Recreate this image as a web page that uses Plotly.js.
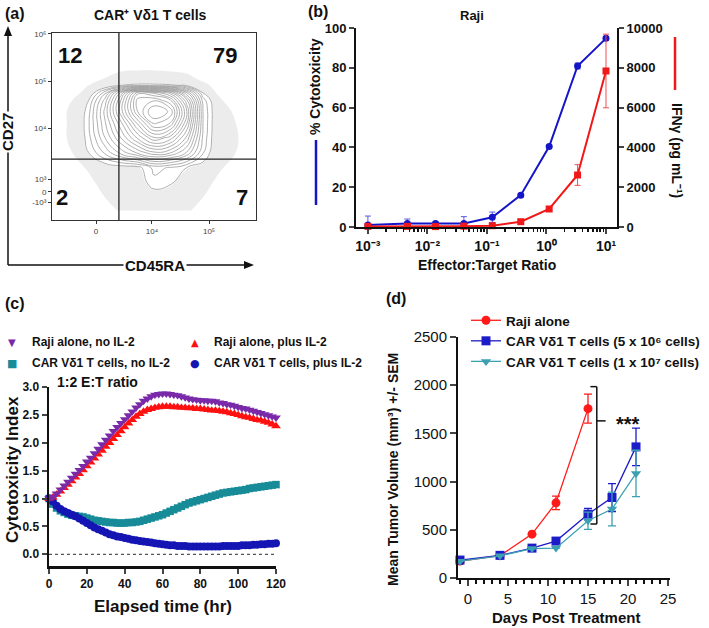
<!DOCTYPE html>
<html>
<head>
<meta charset="utf-8">
<script src="https://cdn.plot.ly/plotly-3.0.1.min.js"></script>
<style>body{margin:0;background:#fff}#chart{width:709px;height:628px}</style>
</head>
<body>
<div id="chart"></div>
<script>
// panel (a) - densities estimated from the contour picture (display units 0-100)
var flowX = [10, 18, 26, 34, 42, 50, 58, 66, 74, 82, 90];
var flowY = [5, 12, 20, 28, 36, 44, 52, 58, 64, 68, 72, 76, 84];
var flowZ = [
  [0, 0, 0, 0, 0, 0, 0, 0, 0, 0, 0],
  [0, 0, 0, 0, 0.2, 0.6, 0.5, 0, 0, 0, 0],
  [0, 0, 0.1, 0.3, 0.6, 1.3, 1.1, 0.5, 0.2, 0, 0],
  [0, 0.3, 0.6, 0.7, 0.8, 1.6, 1.4, 1.0, 0.7, 0.1, 0],
  [0, 1.0, 2.0, 3.0, 3.8, 4.5, 4.2, 3.2, 1.5, 0.3, 0],
  [0, 1.3, 2.8, 4.2, 5.6, 6.8, 6.2, 4.5, 1.8, 0.3, 0],
  [0, 1.4, 3.2, 5.0, 7.0, 8.8, 8.2, 5.6, 1.9, 0.3, 0],
  [0, 1.3, 3.4, 5.8, 8.2, 9.6, 9.0, 6.0, 1.9, 0.3, 0],
  [0, 1.0, 3.0, 5.6, 8.4, 8.6, 7.8, 5.2, 1.7, 0.2, 0],
  [0, 0.4, 2.2, 4.8, 7.6, 7.2, 6.2, 3.8, 1.0, 0, 0],
  [0, 0, 0.4, 1.0, 1.2, 1.2, 1.1, 0.9, 0.1, 0, 0],
  [0, 0, 0, 0, 0, 0, 0, 0, 0, 0, 0],
  [0, 0, 0, 0, 0, 0, 0, 0, 0, 0, 0]
];
// where the scattered single events lie
var dotX = [2, 10, 18, 26, 34, 42, 50, 58, 66, 74, 82, 90, 98];
var dotZ = [
  [0, 0, 0, 0.2, 0.6, 0.7, 0.7, 0.7, 0.6, 0.2, 0, 0, 0],
  [0, 0, 0.1, 0.5, 0.8, 0.9, 0.9, 0.9, 0.8, 0.5, 0.1, 0, 0],
  [0, 0, 0.3, 0.8, 1, 1, 1, 1, 1, 0.8, 0.3, 0, 0],
  [0, 0.2, 0.6, 1, 1, 1, 1, 1, 1, 1, 0.6, 0.2, 0],
  [0.2, 0.5, 0.8, 1, 1, 1, 1, 1, 1, 1, 0.8, 0.5, 0],
  [0.3, 0.6, 0.9, 1, 1, 1, 1, 1, 1, 1, 0.9, 0.6, 0],
  [0.3, 0.6, 0.9, 1, 1, 1, 1, 1, 1, 1, 0.9, 0.5, 0],
  [0.3, 0.6, 0.9, 1, 1, 1, 1, 1, 1, 1, 0.8, 0.4, 0],
  [0.1, 0.5, 0.8, 1, 1, 1, 1, 1, 1, 1, 0.6, 0.1, 0],
  [0, 0.3, 0.7, 1, 1, 1, 1, 1, 1, 0.9, 0.4, 0, 0],
  [0, 0.1, 0.5, 0.9, 1, 1, 1, 1, 1, 0.7, 0.2, 0, 0],
  [0, 0, 0.2, 0.5, 0.8, 0.8, 0.8, 0.8, 0.7, 0.3, 0, 0, 0],
  [0, 0, 0, 0, 0.1, 0.2, 0.2, 0.1, 0, 0, 0, 0, 0]
];
var flowTickX = [21.6, 49, 77];
var flowTickXText = ['0', '10⁴', '10⁵'];
var flowTickY = [9.6, 15, 21.9, 49.2, 74.3, 99.5];
var flowTickYText = ['-10³', '0', '10³', '10⁴', '10⁵', '10⁶'];
var gateX = 32.8, gateY = 32.6;
var quadrantPct = ['12', '79', '2', '7'];

// panel (b)
var ratio = [0.001, 0.0046, 0.0137, 0.041, 0.123, 0.37, 1.11, 3.33, 10];
var ratioTicks = [0.001, 0.01, 0.1, 1, 10];
var ratioTickText = ['10⁻³', '10⁻²', '10⁻¹', '10⁰', '10¹'];
var cytotox = [1, 1.8, 1.8, 1.8, 4.9, 16, 40.4, 80.9, 94.8];
var cytotoxErr = [4.5, 2.2, 0.8, 3.4, 2.6, 0.8, 0.8, 1.5, 1];
var ifng = [30, 30, 20, 40, 65, 266, 905, 2613, 7840];
var ifngErr = [0, 0, 0, 0, 0, 60, 80, 520, 1850];

// panel (c)
var hours = [0,2,4,6,8,10,12,14,16,18,20,22,24,26,28,30,32,34,36,38,40,42,44,46,48,50,52,54,56,58,60,
  62,64,66,68,70,72,74,76,78,80,82,84,86,88,90,92,94,96,98,100,102,104,106,108,110,112,114,116,118,120];
var rajiNoIL2 = [1.00,1.03,1.09,1.16,1.23,1.30,1.37,1.44,1.51,1.58,1.66,1.73,1.81,1.89,1.97,2.05,2.13,2.21,2.28,2.35,2.42,2.49,2.56,2.63,2.69,2.75,2.79,2.83,2.86,2.87,2.88,
  2.88,2.87,2.86,2.85,2.83,2.81,2.79,2.78,2.77,2.76,2.76,2.75,2.75,2.74,2.72,2.71,2.69,2.68,2.66,2.64,2.62,2.61,2.59,2.57,2.55,2.53,2.51,2.49,2.47,2.45];
var rajiIL2 = [1.00,1.02,1.07,1.13,1.19,1.25,1.31,1.38,1.44,1.51,1.58,1.65,1.72,1.79,1.86,1.93,2.00,2.07,2.14,2.21,2.28,2.35,2.41,2.47,2.52,2.56,2.59,2.61,2.63,2.64,2.65,
  2.65,2.65,2.64,2.64,2.63,2.63,2.62,2.62,2.61,2.61,2.60,2.59,2.58,2.58,2.57,2.56,2.55,2.53,2.52,2.50,2.48,2.46,2.45,2.43,2.41,2.40,2.38,2.36,2.33,2.30];
var carNoIL2 = [1.00,0.90,0.83,0.78,0.75,0.72,0.70,0.69,0.68,0.67,0.65,0.63,0.61,0.60,0.59,0.58,0.57,0.57,0.56,0.56,0.56,0.57,0.57,0.58,0.59,0.61,0.63,0.65,0.67,0.69,0.71,
  0.74,0.77,0.80,0.83,0.86,0.89,0.92,0.94,0.96,0.98,1.00,1.02,1.04,1.06,1.08,1.10,1.11,1.12,1.13,1.14,1.15,1.16,1.18,1.19,1.20,1.21,1.22,1.23,1.24,1.25];
var carIL2 = [1.00,0.95,0.87,0.81,0.77,0.74,0.71,0.68,0.64,0.60,0.56,0.52,0.48,0.45,0.42,0.39,0.36,0.34,0.32,0.31,0.29,0.28,0.26,0.25,0.24,0.23,0.22,0.21,0.20,0.19,0.18,
  0.17,0.16,0.16,0.15,0.15,0.15,0.14,0.14,0.14,0.14,0.14,0.14,0.14,0.14,0.14,0.15,0.15,0.15,0.15,0.15,0.16,0.16,0.16,0.17,0.17,0.18,0.18,0.19,0.19,0.20];

// panel (d)
var days = [-1, 4, 8, 11, 15, 18, 21];
var rajiVol = [176, 232, 455, 780, 1757];
var rajiVolErr = [0, 0, 0, 70, 150];
var car5e6Vol = [186, 235, 310, 383, 662, 835, 1360];
var car5e6Err = [0, 0, 0, 0, 60, 145, 195];
var car1e7Vol = [175, 230, 305, 310, 594, 715, 1085];
var car1e7Err = [0, 0, 0, 0, 90, 175, 240];

var W = 709, H = 628;
function px(x) { return x / W; }
function py(y) { return 1 - y / H; }
var FONT = 'Liberation Sans, Arial, sans-serif';

function txt(text, x, y, size, opts) {
  var a = {text: text, x: px(x), y: py(y), xref: 'paper', yref: 'paper', showarrow: false,
    font: {family: FONT, size: size, color: '#111', weight: 700}, xanchor: 'center', yanchor: 'middle'};
  for (var k in opts) a[k] = opts[k];
  return a;
}
function pline(x0, y0, x1, y1, color, width) {
  return {type: 'line', xref: 'paper', yref: 'paper', x0: px(x0), y0: py(y0), x1: px(x1), y1: py(y1),
    line: {color: color, width: width}};
}
function ptri(pts) {
  var d = 'M' + pts.map(function (p) { return px(p[0]) + ',' + py(p[1]); }).join(' L') + ' Z';
  return {type: 'path', xref: 'paper', yref: 'paper', path: d, fillcolor: '#111', line: {width: 0}};
}
function stepScale(color) {
  return [[0, 'rgba(255,255,255,0)'], [0.49, 'rgba(255,255,255,0)'], [0.51, color], [1, color]];
}

var traces = [];

// (a)
traces.push({type: 'contour', x: dotX, y: flowY, z: dotZ, xaxis: 'x', yaxis: 'y',
  showscale: false, hoverinfo: 'skip', zmin: 0, zmax: 1,
  contours: {coloring: 'fill', start: 0.5, end: 0.5, size: 1, showlines: false},
  colorscale: stepScale('rgba(80,80,80,0.11)'), line: {width: 0, smoothing: 1.3}});
traces.push({type: 'contour', x: flowX, y: flowY, z: flowZ, xaxis: 'x', yaxis: 'y',
  showscale: false, hoverinfo: 'skip', zmin: 0, zmax: 1.9,
  contours: {coloring: 'fill', start: 0.95, end: 0.95, size: 1, showlines: false},
  colorscale: stepScale('#ffffff'), line: {width: 0, smoothing: 1.3}});
traces.push({type: 'contour', x: flowX, y: flowY, z: flowZ, xaxis: 'x', yaxis: 'y',
  showscale: false, hoverinfo: 'skip',
  contours: {coloring: 'lines', start: 1, end: 9.5, size: 0.45},
  colorscale: [[0, '#9a9a9a'], [1, '#9a9a9a']], line: {width: 0.8, smoothing: 1.3}});

// (b)
traces.push({x: ratio, y: cytotox, xaxis: 'x2', yaxis: 'y2', mode: 'lines+markers', showlegend: false,
  line: {color: '#1414c8', width: 2}, marker: {symbol: 'circle', size: 7, color: '#1414c8'},
  error_y: {type: 'data', array: cytotoxErr, color: '#5a5ae0', thickness: 1, width: 3}, cliponaxis: false});
traces.push({x: ratio, y: ifng, xaxis: 'x2', yaxis: 'y3', mode: 'lines+markers', showlegend: false,
  line: {color: '#f01818', width: 2}, marker: {symbol: 'square', size: 7, color: '#f01818'},
  error_y: {type: 'data', array: ifngErr, color: '#f05050', thickness: 1, width: 3}, cliponaxis: false});

// (c)
traces.push({x: hours, y: carNoIL2, xaxis: 'x4', yaxis: 'y4', mode: 'markers', showlegend: false,
  marker: {symbol: 'square', size: 7.5, color: '#178c98'}, cliponaxis: false});
traces.push({x: hours, y: carIL2, xaxis: 'x4', yaxis: 'y4', mode: 'markers', showlegend: false,
  marker: {symbol: 'circle', size: 8, color: '#1515b4'}, cliponaxis: false});
traces.push({x: hours, y: rajiIL2, xaxis: 'x4', yaxis: 'y4', mode: 'markers', showlegend: false,
  marker: {symbol: 'triangle-up', size: 8.5, color: '#ff1010'}, cliponaxis: false});
traces.push({x: hours, y: rajiNoIL2, xaxis: 'x4', yaxis: 'y4', mode: 'markers', showlegend: false,
  marker: {symbol: 'triangle-down', size: 8.5, color: '#7a2aa8'}, cliponaxis: false});

// (d)
traces.push({x: days.slice(0, rajiVol.length), y: rajiVol, xaxis: 'x5', yaxis: 'y5', mode: 'lines+markers',
  name: 'Raji alone', line: {color: '#ff1a1a', width: 1.3}, marker: {symbol: 'circle', size: 9, color: '#ff1a1a'},
  error_y: {type: 'data', array: rajiVolErr, color: '#ff1a1a', thickness: 1.3, width: 4}, cliponaxis: false});
traces.push({x: days, y: car5e6Vol, xaxis: 'x5', yaxis: 'y5', mode: 'lines+markers',
  name: 'CAR Vδ1 T cells (5 x 10⁶ cells)', line: {color: '#1c1cc8', width: 1.3},
  marker: {symbol: 'square', size: 9, color: '#1c1cc8'},
  error_y: {type: 'data', array: car5e6Err, color: '#1c1cc8', thickness: 1.3, width: 4}, cliponaxis: false});
traces.push({x: days, y: car1e7Vol, xaxis: 'x5', yaxis: 'y5', mode: 'lines+markers',
  name: 'CAR Vδ1 T cells (1 x 10⁷ cells)', line: {color: '#3aa0b2', width: 1.3},
  marker: {symbol: 'triangle-down', size: 9, color: '#3aa0b2'},
  error_y: {type: 'data', array: car1e7Err, color: '#3aa0b2', thickness: 1.3, width: 4}, cliponaxis: false});

var minorLog = [];
[0.001, 0.01, 0.1, 1].forEach(function (d) {
  for (var m = 2; m <= 9; m++) minorLog.push(d * m);
});

var boldTick = function (s) { return {family: FONT, size: s, color: '#111', weight: 700}; };
var axBase = {showgrid: false, zeroline: false, showline: true, linecolor: '#111', ticks: 'outside', fixedrange: true};
function ax(o) { var r = {}; for (var k in axBase) r[k] = axBase[k]; for (var j in o) r[j] = o[j]; return r; }

var layout = {
  width: W, height: H, margin: {l: 0, r: 0, t: 0, b: 0},
  paper_bgcolor: '#fff', plot_bgcolor: 'rgba(0,0,0,0)',
  font: {family: FONT},
  xaxis: ax({domain: [px(52), px(256)], range: [0, 100], anchor: 'y', mirror: true, linewidth: 1, linecolor: '#333',
    tickvals: flowTickX, ticktext: flowTickXText, ticklen: 3, tickcolor: '#333',
    tickfont: {family: FONT, size: 8, color: '#444'}}),
  yaxis: ax({domain: [py(220), py(33)], range: [0, 100], anchor: 'x', mirror: true, linewidth: 1, linecolor: '#333',
    tickvals: flowTickY, ticktext: flowTickYText, ticklen: 3, tickcolor: '#333',
    tickfont: {family: FONT, size: 8, color: '#444'}}),
  xaxis2: ax({domain: [px(356), px(617)], type: 'log', range: [-3.2, 1.185], anchor: 'y2',
    tickvals: ratioTicks, ticktext: ratioTickText,
    linewidth: 2, tickwidth: 2, ticklen: 5, tickfont: boldTick(14),
    minor: {tickvals: minorLog, ticks: 'outside', ticklen: 3, tickwidth: 1.5, tickcolor: '#111'}}),
  yaxis2: ax({domain: [py(227), py(28)], range: [0, 100], dtick: 20, anchor: 'x2',
    linewidth: 2, tickwidth: 2, ticklen: 5, tickfont: boldTick(13)}),
  yaxis3: ax({overlaying: 'y2', side: 'right', anchor: 'x2', range: [0, 10000], dtick: 2000, tickformat: 'd',
    linewidth: 2, tickwidth: 2, ticklen: 5, tickfont: boldTick(13)}),
  xaxis4: ax({domain: [px(49), px(276)], range: [0, 120], dtick: 20, anchor: 'y4',
    linewidth: 2.5, tickwidth: 2, ticklen: 5, tickfont: boldTick(12)}),
  yaxis4: ax({domain: [py(566), py(387)], range: [-0.21, 3.0], tickvals: [0, 0.5, 1, 1.5, 2, 2.5, 3],
    tickformat: '.1f', anchor: 'x4', linewidth: 2.5, tickwidth: 2, ticklen: 5, tickfont: boldTick(12)}),
  xaxis5: ax({domain: [px(458), px(670)], range: [-1.25, 25.25], dtick: 5, anchor: 'y5',
    linewidth: 2, tickwidth: 2, ticklen: 6, tickfont: {family: FONT, size: 15, color: '#111'},
    minor: {dtick: 1, ticks: 'outside', ticklen: 4, tickwidth: 1.5, tickcolor: '#111'}}),
  yaxis5: ax({domain: [py(578), py(337)], range: [0, 2500], dtick: 500, anchor: 'x5',
    linewidth: 2, tickwidth: 2, ticklen: 6, tickfont: {family: FONT, size: 15, color: '#111'}}),
  showlegend: true,
  legend: {x: px(466), y: py(305), xanchor: 'left', yanchor: 'top', bgcolor: 'rgba(0,0,0,0)',
    font: {family: FONT, size: 13.5, color: '#111', weight: 700}, tracegroupgap: 0, itemwidth: 30},
  shapes: [
    {type: 'line', xref: 'x', yref: 'y', x0: gateX, x1: gateX, y0: 0, y1: 100, line: {color: '#222', width: 1.3}},
    {type: 'line', xref: 'x', yref: 'y', x0: 0, x1: 100, y0: gateY, y1: gateY, line: {color: '#222', width: 1.3}},
    pline(8, 265, 8, 34, '#111', 1.5),
    pline(8, 265, 246, 265, '#111', 1.5),
    ptri([[4, 36], [8, 26], [12, 36]]),
    ptri([[244, 261], [254, 265], [244, 269]]),
    pline(316, 140, 316, 205, '#1414c8', 2.5),
    pline(675, 37, 675, 90, '#f01818', 2.5),
    {type: 'line', xref: 'x4', yref: 'y4', x0: 0, x1: 120, y0: 0, y1: 0, line: {color: '#555', width: 1.2, dash: 'dot'}},
    {type: 'line', xref: 'x5', yref: 'y5', x0: 16.1, x1: 16.1, y0: 560, y1: 1985, line: {color: '#111', width: 1.5}},
    {type: 'line', xref: 'x5', yref: 'y5', x0: 15.3, x1: 16.1, y0: 1985, y1: 1985, line: {color: '#111', width: 1.5}},
    {type: 'line', xref: 'x5', yref: 'y5', x0: 15.3, x1: 16.1, y0: 560, y1: 560, line: {color: '#111', width: 1.5}},
    {type: 'line', xref: 'x5', yref: 'y5', x0: 16.1, x1: 17.2, y0: 1630, y1: 1630, line: {color: '#111', width: 1.5}}
  ],
  annotations: [
    // (a)
    txt('(a)', 15, 14, 16),
    txt('CAR⁺ Vδ1 T cells', 150, 15, 14),
    txt(quadrantPct[0], 70, 55, 22),
    txt(quadrantPct[1], 225, 55, 22),
    txt(quadrantPct[2], 62, 197, 22),
    txt(quadrantPct[3], 242, 197, 22),
    txt('CD27', 8, 132, 15, {textangle: -90, bgcolor: '#fff'}),
    txt('CD45RA', 155, 265, 15, {bgcolor: '#fff'}),
    // (b)
    txt('(b)', 318, 12, 16),
    txt('Raji', 472, 15, 13),
    txt('% Cytotoxicity', 315, 87, 14, {textangle: -90}),
    txt('IFNγ (pg mL⁻¹)', 677, 150, 14, {textangle: 90}),
    txt('Effector:Target Ratio', 487, 265, 14),
    // (c)
    txt('(c)', 15, 303, 16),
    txt('▼', 12, 342, 10, {font: {family: 'DejaVu Sans', size: 10, color: '#7a2aa8'}}),
    txt('Raji alone, no IL-2', 30, 342, 12, {xanchor: 'left'}),
    txt('▲', 195, 342, 10, {font: {family: 'DejaVu Sans', size: 10, color: '#ff1010'}}),
    txt('Raji alone, plus IL-2', 212, 342, 12, {xanchor: 'left'}),
    txt('■', 12, 363, 11, {font: {family: 'DejaVu Sans', size: 11, color: '#178c98'}}),
    txt('CAR Vδ1 T cells, no IL-2', 30, 363, 12, {xanchor: 'left'}),
    txt('●', 195, 363, 11, {font: {family: 'DejaVu Sans', size: 11, color: '#1515b4'}}),
    txt('CAR Vδ1 T cells, plus IL-2', 212, 363, 12, {xanchor: 'left'}),
    txt('1:2 E:T ratio', 55, 382, 14, {xanchor: 'left'}),
    txt('Cytotoxicity Index', 13, 470, 17, {textangle: -90}),
    txt('Elapsed time (hr)', 163, 606, 17),
    // (d)
    txt('(d)', 396, 298, 16),
    txt('***', 628, 424, 20),
    txt('Mean Tumor Volume (mm³) +/- SEM', 393, 470, 14, {textangle: -90}),
    txt('Days Post Treatment', 566, 617, 15)
  ]
};

Plotly.newPlot('chart', traces, layout, {displayModeBar: false, staticPlot: true});
</script>
</body>
</html>
